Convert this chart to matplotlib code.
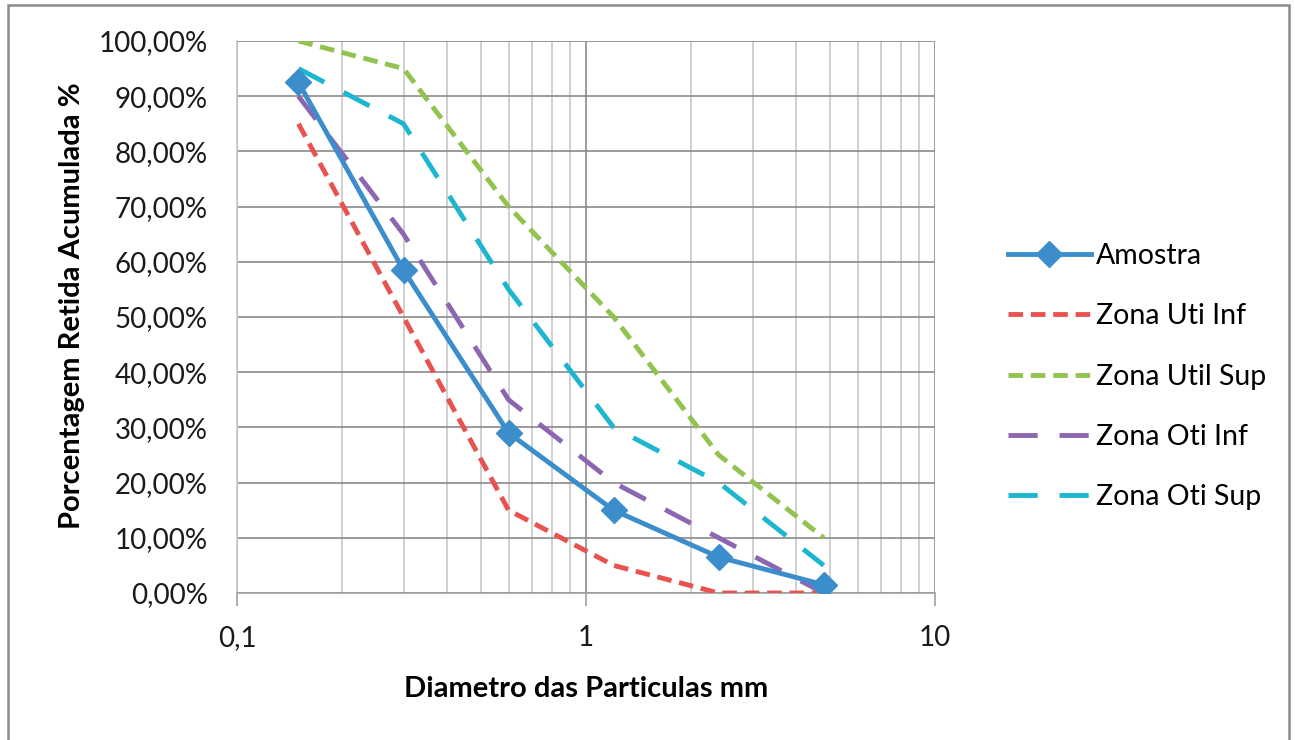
import numpy as np
import matplotlib.pyplot as plt
from matplotlib.patches import Rectangle
from matplotlib.ticker import FuncFormatter, LogLocator, MultipleLocator

# peneiras (mm) e porcentagens retidas acumuladas
diametros = [0.15, 0.3, 0.6, 1.2, 2.4, 4.8]
amostra = [92.5, 58.5, 29.0, 15.0, 6.5, 1.5]
zona_uti_inf = [85, 50, 15, 5, 0, 0]
zona_util_sup = [100, 95, 70, 50, 25, 10]
zona_oti_inf = [90, 65, 35, 20, 10, 0]
zona_oti_sup = [95, 85, 55, 30, 20, 5]

plt.rcParams['font.family'] = ['Lato', 'DejaVu Sans']

fig = plt.figure(figsize=(12.95, 7.4), dpi=100)
ax = fig.add_axes([237 / 1295, 1 - 593 / 740, (935 - 237) / 1295, (593 - 41) / 740])

# moldura da area do grafico
fig.patches.append(Rectangle((8 / 1295, -0.05), (1289 - 8) / 1295, 1.05 - 5 / 740,
                             transform=fig.transFigure, fill=False,
                             edgecolor='#8c8c8c', linewidth=1.8))

ax.plot(diametros, amostra, color='#3C8DCB', linewidth=3.5, marker='D',
        markersize=13, label='Amostra', zorder=6)
ax.plot(diametros, zona_uti_inf, color='#E8534F', linewidth=3.5,
        dashes=(3, 1.6), label='Zona Uti Inf', zorder=5)
ax.plot(diametros, zona_util_sup, color='#92C34F', linewidth=3.5,
        dashes=(3, 1.6), label='Zona Util Sup', zorder=5)
ax.plot(diametros, zona_oti_inf, color='#8C66B0', linewidth=3.5,
        dashes=(6, 4.5), label='Zona Oti Inf', zorder=5)
ax.plot(diametros, zona_oti_sup, color='#1DB6CF', linewidth=3.5,
        dashes=(6, 4.5), label='Zona Oti Sup', zorder=5)

ax.set_xscale('log')
ax.set_xlim(0.1, 10)
ax.set_ylim(0, 100)
ax.yaxis.set_major_locator(MultipleLocator(10))
ax.yaxis.set_major_formatter(FuncFormatter(lambda v, p: ('%.2f%%' % v).replace('.', ',')))
ax.xaxis.set_major_locator(LogLocator(base=10))
ax.xaxis.set_minor_locator(LogLocator(base=10, subs=np.arange(2, 10)))
ax.xaxis.set_major_formatter(FuncFormatter(lambda v, p: ('%g' % v).replace('.', ',')))

ax.grid(True, which='major', color='#8a8a8a', linewidth=1.2)
ax.grid(True, which='minor', axis='x', color='#c8c8c8', linewidth=1.2)
ax.set_axisbelow(True)
for s in ['top', 'right']:
    ax.spines[s].set_visible(False)
ax.spines['left'].set_color('#c8c8c8')
ax.spines['bottom'].set_color('#a0a0a0')
ax.spines['left'].set_linewidth(1.2)
ax.spines['bottom'].set_linewidth(1.2)
ax.tick_params(axis='y', length=0, pad=21, labelsize=20, colors='#1a1a1a')
ax.tick_params(axis='x', which='major', length=9, width=1.2, color='#a0a0a0',
               pad=14, labelsize=20, labelcolor='#1a1a1a')
ax.tick_params(axis='x', which='minor', length=0)

ax.set_xlabel('Diametro das Particulas mm', fontsize=21, fontweight='bold', labelpad=18)
ax.set_ylabel('Porcentagem Retida Acumulada %', fontsize=21, fontweight='bold')
ax.yaxis.set_label_coords(-0.218, 0.52)

ax.legend(loc='center left', bbox_to_anchor=(1.068, 0.392), frameon=False,
          fontsize=20.5, handlelength=2.9, labelspacing=1.2, handletextpad=0.2)

fig.savefig('out.png', dpi=100)
